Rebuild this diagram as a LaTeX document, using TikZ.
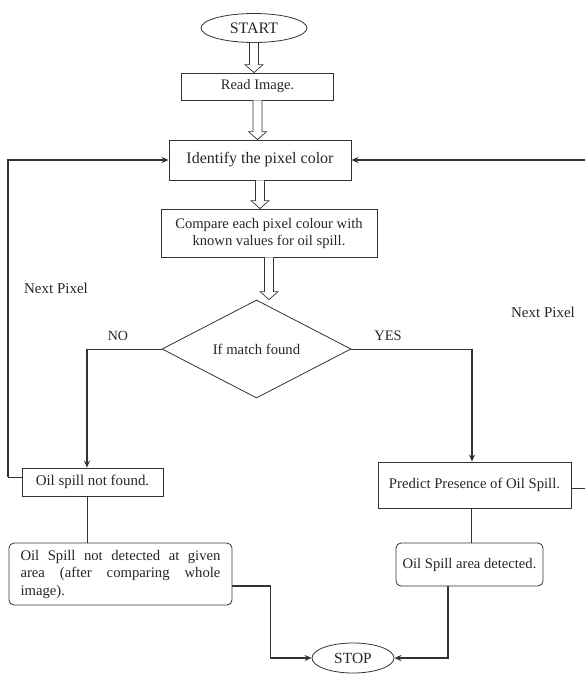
\documentclass[tikz,border=0pt]{standalone}
\usepackage{fontspec}
\setmainfont{Liberation Serif}
\usepackage{tikz}
\usetikzlibrary{positioning}
\usetikzlibrary{arrows.meta,shapes.geometric,calc}
\colorlet{linec}{black!80}
\colorlet{textc}{black!85}

\tikzset{
  box/.style={draw=linec, line width=0.8pt, rectangle, inner sep=0pt, text=textc, align=center},
  rbox/.style={box, rounded corners=5pt},
  term/.style={draw=linec, line width=0.8pt, ellipse, inner sep=0pt, text=textc},
  tag/.style={text=textc, inner sep=0pt},
  flow/.style={draw=linec, line width=1.3pt, -{Stealth[length=7pt,width=6pt]}},
  thin/.style={draw=linec, line width=0.7pt}
}
\newcommand{\fs}[1]{\fontsize{#1}{#1}\selectfont}
% hollow double-shaft arrow between two nodes
\newcommand{\hollowarrow}[2]{%
  \draw[linec, line width=0.7pt, fill=white]
    ($(#1.south)+(-4.5pt,0)$) -- ($(#1.south |- #2.north)+(-4.5pt,8pt)$) -- ($(#1.south |- #2.north)+(-9pt,8pt)$)
    -- (#1.south |- #2.north) -- ($(#1.south |- #2.north)+(9pt,8pt)$) -- ($(#1.south |- #2.north)+(4.5pt,8pt)$)
    -- ($(#1.south)+(4.5pt,0)$);}

\begin{document}
\begin{tikzpicture}[x=1pt,y=-1pt]
\useasboundingbox (0,0) rectangle (585,675);

\node[term, minimum width=106pt, minimum height=29pt, font=\fs{16}] (start) at (254,28) {START};
\node[box, minimum width=152pt, minimum height=27pt, font=\fs{14.5}] (read) at (257.5,86.5) {Read Image.};
\node[box, minimum width=182pt, minimum height=40pt, font=\fs{16}] (ident) at (260,160) {Identify the pixel color};
\node[box, minimum width=216pt, minimum height=48pt, font=\fontsize{14.6}{17}\selectfont] (comp) at (269,233) {Compare each pixel colour with\\ known values for oil spill.};
\node[diamond, draw=linec, line width=0.8pt, inner sep=0pt, aspect=1.93, minimum width=189pt, minimum height=98pt, text=textc, font=\fs{14.7}] (match) at (256.5,349) {If match found};

\node[box, minimum width=141pt, minimum height=28pt, font=\fs{14.9}] (notfound) at (92.5,482) {Oil spill not found.};
\node[rbox, minimum width=223pt, minimum height=62pt, text width=200pt, align=justify, font=\fontsize{14.7}{17.5}\selectfont] (notdet) at (120.5,574) {\hyphenpenalty=10000 Oil Spill not detected at given\linebreak area (after comparing whole\linebreak image).};
\node[box, minimum width=193pt, minimum height=46pt, font=\fs{14.7}] (predict) at (474.5,485) {Predict Presence of Oil Spill.};
\node[rbox, minimum width=147pt, minimum height=43pt, font=\fs{14.6}] (detected) at (469.5,564.5) {Oil Spill area detected.};
\node[term, minimum width=82pt, minimum height=30pt, font=\fs{15.5}] (stop) at (353,658) {STOP};

\node[tag, font=\fs{14}] (no) at (118,336) {NO};
\node[tag, font=\fs{14.5}] (yes) at (388,336) {YES};
\node[tag, font=\fs{15}] (nextl) at (56,288) {Next Pixel};
\node[tag, font=\fs{15}] (nextr) at (543,312) {Next Pixel};

\hollowarrow{start}{read}
\hollowarrow{read}{ident}
\hollowarrow{ident}{comp}
\hollowarrow{comp}{match}

\coordinate (lft) at (8,477);
\coordinate (rgt) at (592,488);
\coordinate (nobend) at (87,349);
\coordinate (yesbend) at (472,349);

\draw[thin] (match.west) -- (nobend);
\draw[flow] (nobend) -- ([xshift=-5.5pt]notfound.north);
\draw[thin] (match.east) -- (yesbend);
\draw[flow] (yesbend) -- ([xshift=-2.5pt]predict.north);

\draw[thin] ([yshift=5pt]notfound.west) -- (lft);
\draw[flow] (lft) |- (ident.west);
\draw[thin] ([yshift=-3pt]predict.east) -- (rgt);
\draw[flow] (rgt) |- (ident.east);

\draw[thin] ([xshift=-5.5pt]notfound.south) -- ([xshift=-33.5pt]notdet.north);
\draw[thin] ([xshift=-3.5pt]predict.south) -- ([xshift=1.5pt]detected.north);

\draw[flow] ([yshift=-12pt]notdet.east) -| ($(stop.west)+(-41pt,0)$) -- (stop.west);
\draw[flow] ([xshift=-21.5pt]detected.south) |- (stop.east);
\end{tikzpicture}
\end{document}
